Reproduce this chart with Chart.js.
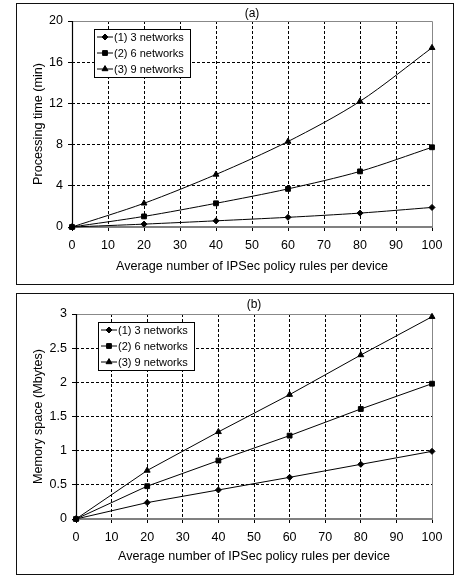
<!DOCTYPE html>
<html><head><meta charset="utf-8">
<script src="https://cdn.jsdelivr.net/npm/chart.js@4.4.1/dist/chart.umd.min.js"></script>
<style>
html,body{margin:0;padding:0;background:#fff;width:455px;height:580px;overflow:hidden}
.wrap{position:absolute;left:16px;width:438px;height:282px}
.frame{position:absolute;left:16px;width:436px;height:280px;border:1px solid #111;pointer-events:none}
</style></head><body>
<div class="wrap" style="top:3px"><canvas id="ca" width="438" height="282"></canvas></div>
<div class="frame" style="top:3px"></div>
<div class="wrap" style="top:293px"><canvas id="cb" width="438" height="282"></canvas></div>
<div class="frame" style="top:293px"></div>
<script>
// ---- data ----
const xValues = [0, 20, 40, 60, 80, 100];
const seriesLabels = ['(1) 3 networks', '(2) 6 networks', '(3) 9 networks'];
const timeNet3 = [0, 0.28, 0.6, 0.94, 1.35, 1.9];
const timeNet6 = [0, 1.03, 2.3, 3.7, 5.4, 7.74];
const timeNet9 = [0, 2.3, 5.1, 8.3, 12.2, 17.4];
const memNet3 = [0, 0.24, 0.425, 0.61, 0.8, 0.99];
const memNet6 = [0, 0.48, 0.855, 1.22, 1.61, 1.98];
const memNet9 = [0, 0.71, 1.275, 1.82, 2.4, 2.96];
const xTickLabels = ['0','10','20','30','40','50','60','70','80','90','100'];
const timeTickLabels = ['0','4','8','12','16','20'];
const memTickLabels = ['0','0.5','1','1.5','2','2.5','3'];
const xTitle = 'Average number of IPSec policy rules per device';
const timeTitle = 'Processing time (min)';
const memTitle = 'Memory space (Mbytes)';

const FONT = 'Arial, "Liberation Sans", sans-serif';
const pointStyles = ['rectRot', 'rect', 'triangle'];
const pointRadii = [3, 3.4, 3.4];

function labelFor(list, v) {
  const f = list.find(l => Math.abs(Number(l) - v) < 1e-9);
  return f === undefined ? '' : f;
}

const framePlugin = {
  id: 'frame',
  beforeDatasetsDraw(chart) {
    const {ctx, chartArea: a} = chart;
    ctx.save();
    ctx.setLineDash([]);
    ctx.strokeStyle = '#888';
    ctx.lineWidth = 1;
    ctx.beginPath();
    ctx.moveTo(a.left, a.top + 0.5); ctx.lineTo(a.right + 0.5, a.top + 0.5); ctx.lineTo(a.right + 0.5, a.bottom);
    ctx.stroke();
    ctx.strokeStyle = '#808080';
    ctx.lineWidth = 2;
    ctx.beginPath();
    ctx.moveTo(a.left, a.bottom); ctx.lineTo(a.right + 1, a.bottom);
    ctx.stroke();
    ctx.strokeStyle = '#000';
    ctx.lineWidth = 1.2;
    ctx.beginPath();
    ctx.moveTo(a.left + 0.5, a.top); ctx.lineTo(a.left + 0.5, a.bottom + 1);
    ctx.stroke();
    ctx.restore();
  },
  afterDraw(chart, args, opts) {
    const {ctx, chartArea: a} = chart;
    ctx.save();
    // panel title
    ctx.fillStyle = '#000';
    ctx.font = '12px ' + FONT;
    ctx.textAlign = 'center';
    ctx.textBaseline = 'middle';
    ctx.fillText(opts.title, (a.left + a.right) / 2, a.top - opts.titleOffset);
    // legend box
    const bx = a.left + 22, by = a.top + 8, bw = 96, bh = 48;
    ctx.fillStyle = '#fff';
    ctx.fillRect(bx, by, bw, bh);
    ctx.strokeStyle = '#000';
    ctx.lineWidth = 1;
    ctx.strokeRect(bx + 0.5, by + 0.5, bw, bh);
    ctx.font = '11px ' + FONT;
    ctx.textAlign = 'left';
    chart.data.datasets.forEach((ds, i) => {
      const cy = by + 8 + i * 16;
      ctx.strokeStyle = '#000';
      ctx.lineWidth = 1;
      ctx.beginPath();
      ctx.moveTo(bx + 3, cy); ctx.lineTo(bx + 19, cy);
      ctx.stroke();
      ctx.fillStyle = '#000';
      Chart.helpers.drawPoint(ctx, {pointStyle: ds.pointStyle, radius: ds.pointRadius, rotation: 0, borderWidth: 1}, bx + 11, cy);
      ctx.fillStyle = '#000';
      ctx.textBaseline = 'middle';
      ctx.fillText(ds.label, bx + 20, cy + 0.5);
    });
    ctx.restore();
  }
};

function makeChart(id, series, yMax, yStep, yTicks, yTitle, cfg) {
  const datasets = series.map((vals, i) => ({
    label: seriesLabels[i],
    data: xValues.map((x, j) => ({x: x, y: vals[j]})),
    borderColor: '#000',
    backgroundColor: '#000',
    borderWidth: 1,
    pointStyle: pointStyles[i],
    pointRadius: pointRadii[i],
    pointBorderWidth: 1,
    pointBackgroundColor: '#000',
    pointBorderColor: '#000',
    tension: cfg.tension,
    clip: false
  }));
  return new Chart(document.getElementById(id), {
    type: 'line',
    data: {datasets},
    plugins: [framePlugin],
    options: {
      responsive: false,
      animation: false,
      devicePixelRatio: 1,
      layout: {padding: {top: cfg.padTop, right: 22, left: 0, bottom: 0}},
      plugins: {
        legend: {display: false},
        tooltip: {enabled: false},
        frame: {title: cfg.title, titleOffset: cfg.titleOffset}
      },
      scales: {
        x: {
          type: 'linear', min: 0, max: 100,
          afterFit: s => { s.height = cfg.xHeight; },
          ticks: {stepSize: 10, color: '#000', padding: 7, maxRotation: 0,
            font: {family: FONT, size: 12.5},
            callback: v => labelFor(xTickLabels, v)},
          grid: {color: c => (c.tick && (c.tick.value === 0 || c.tick.value === 100)) ? 'rgba(0,0,0,0)' : '#000',
            lineWidth: 1, tickLength: 4, tickColor: '#000', tickWidth: 1},
          border: {display: false, dash: [3, 2]},
          title: {display: true, text: xTitle, color: '#000', font: {family: FONT, size: 12.6}, padding: {top: 2, bottom: 11}}
        },
        y: {
          type: 'linear', min: 0, max: yMax,
          afterFit: s => { s.width = cfg.yWidth; },
          ticks: {stepSize: yStep, color: '#000', padding: 5,
            font: {family: FONT, size: 12.5},
            callback: v => labelFor(yTicks, v)},
          grid: {color: c => (c.tick && (c.tick.value === 0 || Math.abs(c.tick.value - yMax) < 1e-9)) ? 'rgba(0,0,0,0)' : '#000',
            lineWidth: 1, tickLength: 4, tickColor: '#000', tickWidth: 1},
          border: {display: false, dash: [3, 2]},
          title: {display: true, text: yTitle, color: '#000', font: {family: FONT, size: 12.6}, padding: {top: 14.5, bottom: 0}}
        }
      }
    }
  });
}

makeChart('ca', [timeNet3, timeNet6, timeNet9], 20, 4, timeTickLabels, timeTitle,
  {tension: 0.3, padTop: 18, xHeight: 58, yWidth: 56, title: '(a)', titleOffset: 7});
makeChart('cb', [memNet3, memNet6, memNet9], 3, 0.5, memTickLabels, memTitle,
  {tension: 0, padTop: 21, xHeight: 56, yWidth: 60, title: '(b)', titleOffset: 9});
</script>
</body></html>
